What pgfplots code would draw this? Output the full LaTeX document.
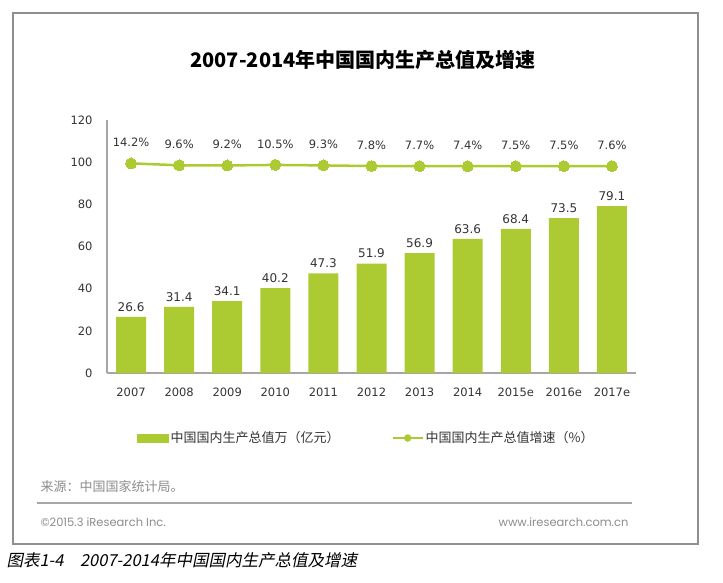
\documentclass[border=0pt]{standalone}
\usepackage{pgfplots}
\pgfplotsset{compat=1.18}
\usepackage{fontspec}
\setmainfont{DejaVu Sans}
\newfontfamily\cjk{Noto Sans CJK SC}
\newfontfamily\cjki{Noto Sans CJK SC}[FakeSlant=0.2]
\newfontfamily\pop{Poppins}
\definecolor{barc}{HTML}{ACCB32}
\definecolor{axc}{HTML}{A6A6A6}
\definecolor{txtg}{HTML}{8C8C8C}
\definecolor{framec}{HTML}{8F8F8F}
\definecolor{lab}{HTML}{333333}
\begin{document}
\begin{tikzpicture}[x=1pt,y=1pt]
\useasboundingbox (-107,-209) rectangle (616,373);
\draw[framec, line width=1.2pt] (-94,-171) rectangle (591,360);
\node[font=\cjk\bfseries\fontsize{20}{24}\selectfont] at (256,313) {2007-2014年中国国内生产总值及增速};
\begin{axis}[
  at={(0,0)}, anchor=south west,
  width=529pt, height=253pt, scale only axis,
  xmin=-0.5, xmax=10.5, ymin=0, ymax=120,
  axis x line*=bottom, axis y line*=left,
  axis line style={axc, line width=1.5pt, -},
  major tick length=0pt,
  xtick={0,...,10},
  xticklabels={2007,2008,2009,2010,2011,2012,2013,2014,2015e,2016e,2017e},
  ytick={0,20,...,120},
  tick label style={font=\fontsize{11.5}{13}\selectfont, color=lab},
  /pgf/number format/assume math mode=true,
  y tick label style={xshift=-11pt},
  x tick label style={yshift=-11pt},
  ybar, bar width=30pt,
  nodes near coords,
  every node near coord/.append style={anchor=center, yshift=10pt, color=lab, font=\fontsize{12}{14}\selectfont},
  nodes near coords style={/pgf/number format/.cd, fixed, precision=1, fixed zerofill, assume math mode=true},
  legend style={at={(0.49,-0.257)}, anchor=center, legend columns=2, draw=none, fill=none,
    font=\cjk\fontsize{13}{15}\selectfont, text=black!80,
    /tikz/every even column/.append style={column sep=50pt}},
]
\addplot[fill=barc, draw=none,
  legend image code/.code={\fill[barc] (0pt,-4.5pt) rectangle (32pt,4.5pt);}]
  coordinates {(0,26.6) (1,31.4) (2,34.1) (3,40.2) (4,47.3) (5,51.9) (6,56.9) (7,63.6) (8,68.4) (9,73.5) (10,79.1)};
\addlegendentry{中国国内生产总值万（亿元）}
\addlegendimage{legend image code/.code={\draw[barc,line width=2pt] (0pt,0pt) -- (30pt,0pt); \fill[barc] (15pt,0pt) circle (3.5pt);}}
\addlegendentry{中国国内生产总值增速（\%）}
\end{axis}
\begin{axis}[
  at={(0,0)}, anchor=south west,
  width=529pt, height=253pt, scale only axis,
  xmin=-0.5, xmax=10.5, ymin=-483, ymax=117,
  hide axis,
  nodes near coords={\pgfmathprintnumber[fixed, precision=1, fixed zerofill, assume math mode=true]{\pgfplotspointmeta}\%},
  every node near coord/.append style={anchor=center, yshift=21pt, color=lab, font=\fontsize{11.5}{13}\selectfont},
]
\addplot[barc, line width=2.5pt, mark=*, mark size=5.5pt, mark options={fill=barc, draw=barc, line width=0pt}]
  coordinates {(0,14.2) (1,9.6) (2,9.2) (3,10.5) (4,9.3) (5,7.8) (6,7.7) (7,7.4) (8,7.5) (9,7.5) (10,7.6)};
\end{axis}
\node[anchor=west, txtg, font=\cjk\fontsize{13}{15}\selectfont] at (-70,-114) {来源：中国国家统计局。};
\draw[axc, line width=1.2pt] (-70,-130) -- (525,-130);
\node[anchor=west, txtg, font=\pop\fontsize{11.5}{13}\selectfont] at (-70,-149) {©2015.3 iResearch Inc.};
\node[anchor=east, txtg, font=\pop\fontsize{11.5}{13}\selectfont] at (525,-149) {www.iresearch.com.cn};
\node[anchor=west, font=\cjki\fontsize{16.5}{19}\selectfont] at (-104,-187) {图表1-4\quad 2007-2014年中国国内生产总值及增速};
\end{tikzpicture}
\end{document}
